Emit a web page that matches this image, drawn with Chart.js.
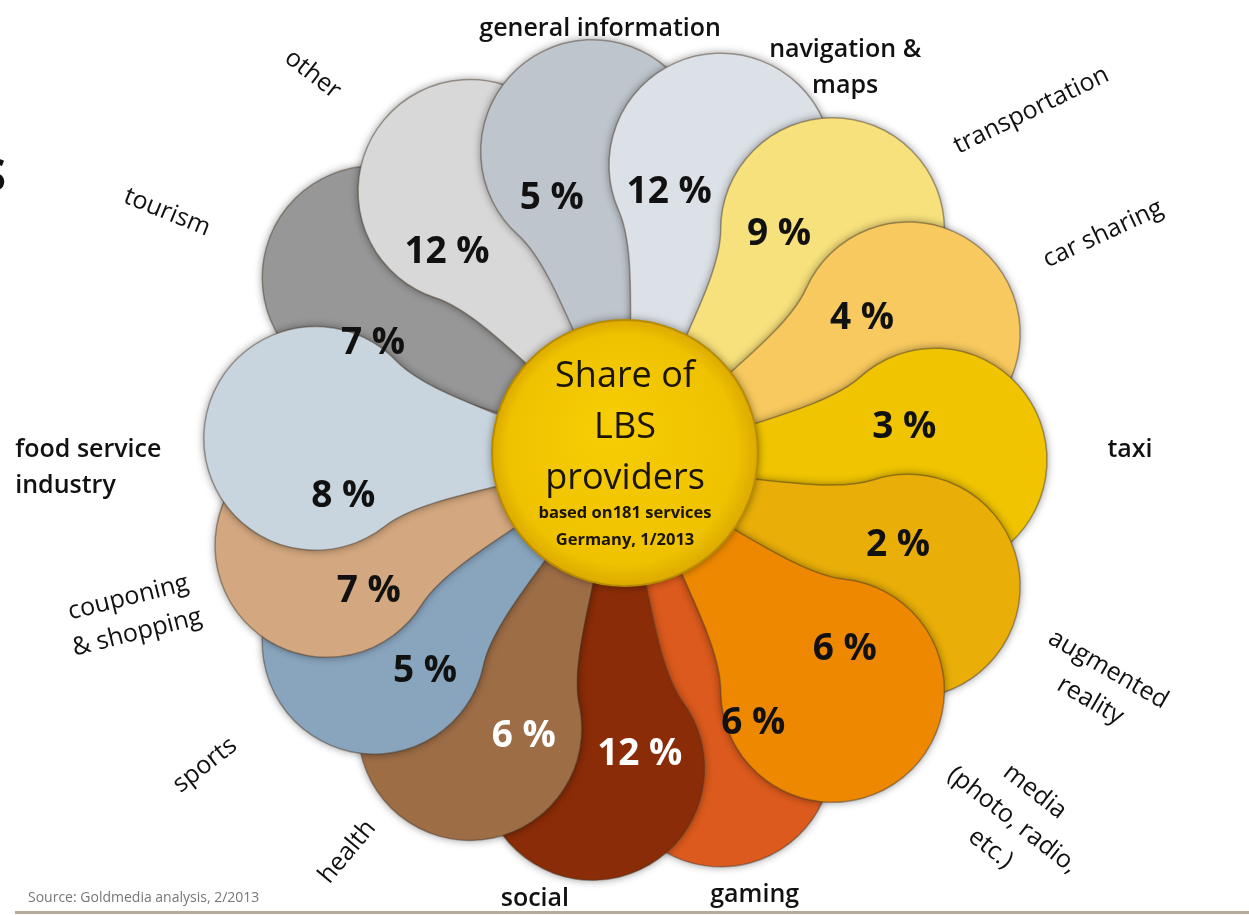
<!DOCTYPE html>
<html>
<head>
<meta charset="utf-8">
<script src="https://cdn.jsdelivr.net/npm/chart.js@4.4.1/dist/chart.umd.min.js"></script>
<style>
  html, body { margin: 0; padding: 0; background: #fff; }
</style>
</head>
<body>
<canvas id="chart" width="1249" height="916"></canvas>
<script>
// categories clockwise, starting at the top petal
const categories = [
    'general information', 'navigation &\nmaps', 'transportation', 'car sharing', 'taxi',
    'augmented\nreality', 'media\n(photo, radio,\netc.)', 'gaming', 'social', 'health',
    'sports', 'couponing\n& shopping', 'food service\nindustry', 'tourism', 'other'
];
const shares = [5, 12, 9, 4, 3, 2, 6, 6, 12, 6, 5, 7, 8, 7, 12];

const petalColors = [
    '#bec5cc', '#dce1e7', '#f7e17c', '#f8c95e', '#f0c400',
    '#e9af08', '#ee8800', '#dc5a1d', '#8a2c07', '#9d6d46',
    '#89a5be', '#d3a77f', '#c8d5df', '#979797', '#d8d8d8'
];
const percentColors = [
    '#111', '#111', '#111', '#111', '#111', '#111', '#111', '#111',
    '#fff', '#fff', '#111', '#111', '#111', '#111', '#111'
];
// which petal lies on top of which (first = bottom)
const drawOrder = [13, 7, 14, 0, 1, 2, 3, 4, 5, 6, 8, 9, 10, 11, 12];
// small turn of single petals (deg), the drawing is not perfectly regular
const petalNudge = [0, 0, 0, 0, 0, 0, 0, 0, 0, 0, 0, -4, -8, 0, 0];

// [angle shift (deg), distance (x radius), rotation (deg), align, weight]
const labelLayout = [
    [2.7, 1.024, 0, 'center', 600],
    [11.3, 1.066, 0, 'center', 600],
    [7.3, 1.27, -26, 'center', 400],
    [-1.3, 1.253, -25, 'center', 400],
    [-1.2, 1.197, 0, 'center', 600],
    [1.4, 1.244, 30, 'center', 400],
    [-5.1, 1.254, 38, 'center', 400],
    [1.4, 1.076, 0, 'center', 600],
    [5.6, 1.062, 0, 'center', 600],
    [5.3, 1.138, -50, 'center', 400],
    [0, 1.23, -38, 'center', 400],
    [-5.5, 1.223, -14, 'center', 400],
    [-12.7, 1.445, 0, 'left', 600],
    [-7.6, 1.234, 22, 'center', 400],
    [-9, 1.176, 38, 'center', 400]
];

const centerTitle = ['Share of', 'LBS', 'providers'];
const centerNote = ['based on181 services', 'Germany, 1/2013'];
const sourceText = 'Source: Goldmedia analysis, 2/2013';

const FONT = '"Open Sans", "DejaVu Sans", sans-serif';
const rad = deg => deg * Math.PI / 180;

function petalPath(ctx, R) {
    const d = 0.735 * R, rb = 0.265 * R;
    const phi = rad(132);
    const jx = d + rb * Math.cos(phi), jy = rb * Math.sin(phi);
    ctx.beginPath();
    ctx.moveTo(0.06 * R, 0);
    ctx.bezierCurveTo(0.26 * R, -0.083 * R, 0.47 * R, -0.118 * R, jx, -jy);
    ctx.arc(d, 0, rb, -phi, phi, false);
    ctx.bezierCurveTo(0.47 * R, 0.118 * R, 0.26 * R, 0.083 * R, 0.06 * R, 0);
    ctx.closePath();
}

function drawLines(ctx, lines, x, y, rot, align, lh) {
    ctx.save();
    ctx.translate(x, y);
    ctx.rotate(rad(rot));
    ctx.textAlign = align;
    ctx.textBaseline = 'middle';
    lines.forEach((ln, k) => ctx.fillText(ln, 0, (k - (lines.length - 1) / 2) * lh));
    ctx.restore();
}

const flowerPlugin = {
    id: 'flower',
    afterDatasetsDraw(chart) {
        const ctx = chart.ctx;
        const meta = chart.getDatasetMeta(0);
        const R = chart.scales.r.drawingArea;
        const mid = el => (el.startAngle + el.endAngle) / 2;

        // petals
        drawOrder.forEach(i => {
            const el = meta.data[i];
            ctx.save();
            ctx.translate(el.x, el.y);
            ctx.rotate(mid(el) + rad(petalNudge[i]));
            petalPath(ctx, R);
            ctx.shadowColor = 'rgba(0,0,0,0.45)';
            ctx.shadowBlur = 9;
            ctx.fillStyle = petalColors[i];
            ctx.fill();
            ctx.shadowColor = 'transparent';
            ctx.lineWidth = 1.5;
            ctx.strokeStyle = 'rgba(70,55,40,0.45)';
            ctx.stroke();
            ctx.restore();
        });

        const cx = meta.data[0].x, cy = meta.data[0].y;

        // centre disc
        ctx.save();
        const cr = 0.315 * R;
        const dy = cy - 7;
        const g = ctx.createRadialGradient(cx - 20, dy - 25, 10, cx, dy, cr);
        g.addColorStop(0, '#f6cd05');
        g.addColorStop(0.85, '#efc200');
        g.addColorStop(1, '#dcaa00');
        ctx.beginPath();
        ctx.arc(cx, dy, cr, 0, Math.PI * 2);
        ctx.shadowColor = 'rgba(0,0,0,0.5)';
        ctx.shadowBlur = 10;
        ctx.fillStyle = g;
        ctx.fill();
        ctx.shadowColor = 'transparent';
        ctx.lineWidth = 2;
        ctx.strokeStyle = '#b88c00';
        ctx.stroke();
        ctx.fillStyle = '#1a1400';
        ctx.font = '36px ' + FONT;
        ctx.textAlign = 'center';
        ctx.textBaseline = 'middle';
        centerTitle.forEach((t, k) => ctx.fillText(t, cx, dy - 76 + k * 51));
        ctx.font = 'bold 16.5px ' + FONT;
        centerNote.forEach((t, k) => ctx.fillText(t, cx, dy + 60 + k * 27));
        ctx.restore();

        // percentages
        ctx.save();
        ctx.font = 'bold 37px ' + FONT;
        meta.data.forEach((el, i) => {
            const a = mid(el) + rad(petalNudge[i] - 9);
            const r = 0.67 * R;
            ctx.fillStyle = percentColors[i];
            drawLines(ctx, [shares[i] + ' %'], el.x + r * Math.cos(a), el.y + 12 + r * Math.sin(a), 0, 'center', 0);
        });
        ctx.restore();

        // category labels
        ctx.save();
        ctx.fillStyle = '#111';
        meta.data.forEach((el, i) => {
            const [da, dist, rot, align, weight] = labelLayout[i];
            const a = mid(el) + rad(da);
            ctx.font = weight + ' 25px ' + FONT;
            drawLines(ctx, categories[i].split('\n'), el.x + dist * R * Math.cos(a),
                el.y + dist * R * Math.sin(a), rot, align, 36);
        });
        ctx.restore();
    },
    afterDraw(chart) {
        const ctx = chart.ctx;
        ctx.save();
        // cut-off title letter at the left border
        ctx.fillStyle = '#111';
        ctx.font = 'bold 44px ' + FONT;
        ctx.textAlign = 'right';
        ctx.textBaseline = 'middle';
        ctx.fillText('S', 6, 178);
        // source + rule
        ctx.font = '14px ' + FONT;
        ctx.fillStyle = '#777';
        ctx.textAlign = 'left';
        ctx.fillText(sourceText, 28, 898);
        ctx.fillStyle = '#b8aa9a';
        ctx.fillRect(15, 911, 1234, 3);
        ctx.restore();
    }
};

new Chart(document.getElementById('chart'), {
    type: 'polarArea',
    data: {
        labels: categories,
        datasets: [{
            data: shares,
            backgroundColor: 'rgba(0,0,0,0)',
            borderWidth: 0
        }]
    },
    options: {
        responsive: false,
        animation: false,
        layout: { padding: { left: 203, right: 202, top: 38, bottom: 34 } },
        scales: {
            r: { display: false, min: 0, max: 12, startAngle: -18 }
        },
        plugins: {
            legend: { display: false },
            tooltip: { enabled: false }
        }
    },
    plugins: [flowerPlugin]
});
</script>
</body>
</html>
